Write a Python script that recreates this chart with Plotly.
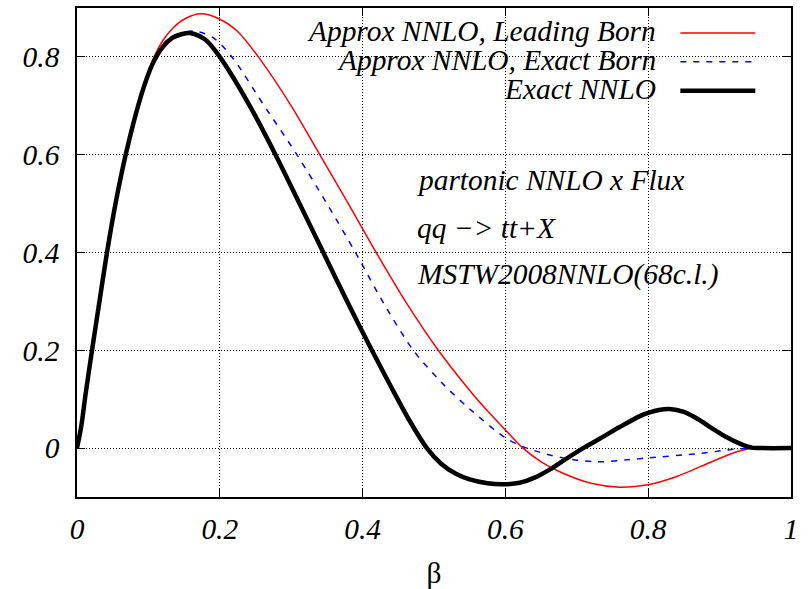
import plotly.graph_objects as go

# ---- data ----
beta_exact = [0, 0.006, 0.012, 0.021, 0.032, 0.042, 0.055, 0.069, 0.088, 0.1, 0.108, 0.12, 0.135,
              0.158, 0.18, 0.2, 0.24, 0.278, 0.31, 0.345, 0.38, 0.413, 0.44, 0.465, 0.49, 0.51,
              0.53, 0.55, 0.575, 0.597, 0.62, 0.64, 0.662, 0.685, 0.709, 0.733, 0.76, 0.789, 0.8,
              0.815, 0.83, 0.85, 0.87, 0.89, 0.91, 0.93, 0.945, 0.96, 1.0]
nnlo_exact = [0, 0.045, 0.11, 0.2, 0.305, 0.4, 0.508, 0.605, 0.712, 0.765, 0.792, 0.82, 0.84,
              0.849, 0.835, 0.8, 0.705, 0.6, 0.505, 0.4, 0.295, 0.2, 0.125, 0.058, 0.0, -0.032,
              -0.052, -0.064, -0.072, -0.074, -0.071, -0.061, -0.044, -0.022, 0.0, 0.02, 0.043, 0.066, 0.072,
              0.078, 0.080, 0.074, 0.059, 0.040, 0.022, 0.008, 0.001, 0.0, 0.0]

beta_lead = [0, 0.006, 0.012, 0.021, 0.032, 0.042, 0.055, 0.069, 0.088, 0.1, 0.108, 0.12, 0.135,
             0.15, 0.174, 0.2, 0.225, 0.254, 0.30, 0.34, 0.38, 0.419, 0.46, 0.506, 0.55, 0.58,
             0.60, 0.623, 0.65, 0.68, 0.72, 0.76, 0.80, 0.84, 0.873, 0.91, 0.93, 0.95, 1.0]
nnlo_lead = [0, 0.045, 0.11, 0.2, 0.305, 0.4, 0.508, 0.605, 0.712, 0.768, 0.8, 0.833, 0.860,
             0.877, 0.888, 0.877, 0.852, 0.8, 0.70, 0.6, 0.50, 0.4, 0.30, 0.2, 0.118, 0.068,
             0.037, 0.002, -0.028, -0.051, -0.072, -0.080, -0.075, -0.058, -0.038, -0.015, -0.005, 0.0, 0.0]

beta_eb = [0, 0.006, 0.012, 0.021, 0.032, 0.042, 0.055, 0.069, 0.088, 0.1, 0.108, 0.12, 0.135,
           0.163, 0.19, 0.217, 0.26, 0.308, 0.35, 0.39, 0.43, 0.471, 0.51, 0.55, 0.60, 0.63,
           0.68, 0.728, 0.77, 0.80, 0.873, 0.91, 0.943, 1.0]
nnlo_eb = [0, 0.045, 0.11, 0.2, 0.305, 0.4, 0.508, 0.605, 0.712, 0.766, 0.795, 0.825, 0.843,
           0.853, 0.84, 0.8, 0.705, 0.6, 0.5, 0.4, 0.295, 0.2, 0.135, 0.08, 0.021, 0.0,
           -0.02, -0.028, -0.024, -0.020, -0.011, -0.004, 0.0, 0.0]

x_ticks = [0, 0.2, 0.4, 0.6, 0.8, 1]
x_tick_labels = ["0", "0.2", "0.4", "0.6", "0.8", "1"]
y_ticks = [0, 0.2, 0.4, 0.6, 0.8]
y_tick_labels = ["0", "0.2", "0.4", "0.6", "0.8"]

series_names = ["Approx NNLO, Leading Born", "Approx NNLO, Exact Born", "Exact NNLO"]
info_lines = ["partonic NNLO x Flux", "qq \u2212> tt+X", "MSTW2008NNLO(68c.l.)"]

FONT = "Liberation Serif"
FS = 29.4

fig = go.Figure()
fig.add_trace(go.Scatter(x=beta_lead, y=nnlo_lead, mode="lines", name=series_names[0],
                         line=dict(color="#ff0000", width=1.5, shape="spline", smoothing=0.8)))
fig.add_trace(go.Scatter(x=beta_eb, y=nnlo_eb, mode="lines", name=series_names[1],
                         line=dict(color="#0000ff", width=1.5, dash="6px,7px", shape="spline", smoothing=0.8)))
fig.add_trace(go.Scatter(x=beta_exact, y=nnlo_exact, mode="lines", name=series_names[2],
                         line=dict(color="#000000", width=4.5, shape="spline", smoothing=0.8)))

# opaque key box (below traces, above grid)
fig.add_shape(type="rect", xref="paper", yref="paper", x0=0.201, x1=0.973, y0=0.80, y1=0.985,
              fillcolor="white", line=dict(width=0), layer="between")

# key: text right-aligned, sample to the right
key_y = [0.953, 0.894, 0.835]
key_styles = [dict(color="#ff0000", width=1.5), dict(color="#0000ff", width=1.5, dash="6px,7px"),
              dict(color="#000000", width=4.5)]
for name, ky, st in zip(series_names, key_y, key_styles):
    fig.add_annotation(xref="paper", yref="paper", x=0.814, y=ky, text=name, showarrow=False,
                       xanchor="right", yanchor="middle",
                       font=dict(family=FONT, size=FS, color="black", style="italic"))
    fig.add_shape(type="line", xref="paper", yref="paper", x0=0.845, x1=0.950, y0=ky - 0.004, y1=ky - 0.004,
                  line=st, layer="above")

for txt, ty in zip(info_lines, [0.648, 0.550, 0.454]):
    fig.add_annotation(xref="paper", yref="paper", x=0.474, y=ty, text=txt, showarrow=False,
                       xanchor="left", yanchor="middle",
                       font=dict(family=FONT, size=FS, color="black", style="italic"))

axis_common = dict(showline=True, linecolor="black", linewidth=1.5, mirror="ticks",
                   ticks="inside", ticklen=8, tickcolor="black", tickwidth=1,
                   showgrid=True, gridcolor="black", gridwidth=1, griddash="1px,2px",
                   zeroline=False, automargin=False,
                   tickfont=dict(family=FONT, size=FS, color="black", style="italic"))

fig.update_xaxes(range=[0, 1], tickvals=x_ticks, ticktext=x_tick_labels,
                 ticklabelstandoff=5,
                 title=dict(text="\u03b2", font=dict(family=FONT, size=FS, color="black"), standoff=18),
                 **axis_common)
fig.update_yaxes(range=[-0.1, 0.9], tickvals=y_ticks, ticktext=y_tick_labels,
                 ticklabelstandoff=10, **axis_common)

fig.update_layout(width=812, height=589, margin=dict(l=77, r=21, t=8, b=92),
                  paper_bgcolor="white", plot_bgcolor="white", showlegend=False,
                  font=dict(family=FONT, size=FS, color="black"))

fig.write_html("out.html", config={"displayModeBar": False},
               post_script="document.body.style.margin='0';document.body.style.overflow='hidden';")
